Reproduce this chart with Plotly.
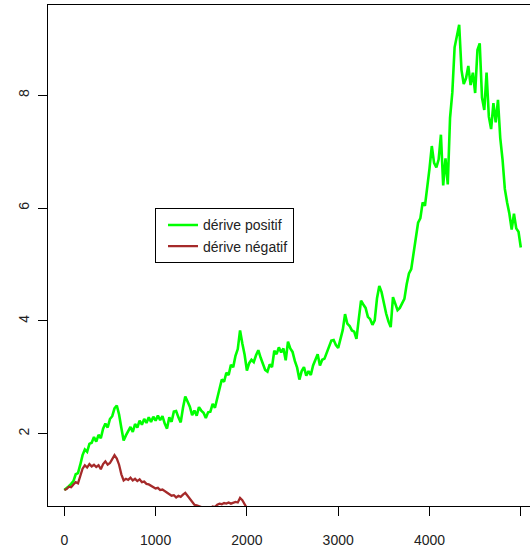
import plotly.graph_objects as go

# time steps (every 25 steps of a 5000-step walk)
steps_pos = list(range(0, 5001, 25))
steps_neg = list(range(0, 2001, 25))

# dérive positif
derive_positif = [
    1.00, 1.03, 1.07, 1.11, 1.16, 1.28, 1.30, 1.45, 1.62, 1.72,
    1.68, 1.82, 1.84, 1.94, 1.86, 1.98, 1.92, 2.09, 2.18, 2.11,
    2.26, 2.31, 2.45, 2.50, 2.34, 2.10, 1.88, 1.97, 2.04, 2.12,
    2.03, 2.17, 2.11, 2.23, 2.16, 2.26, 2.19, 2.29, 2.21, 2.30,
    2.23, 2.32, 2.24, 2.31, 2.18, 2.09, 2.29, 2.21, 2.39, 2.40,
    2.29, 2.20, 2.46, 2.66, 2.57, 2.48, 2.33, 2.41, 2.32, 2.47,
    2.41, 2.37, 2.28, 2.38, 2.39, 2.53, 2.46, 2.63, 2.82, 2.96,
    2.92, 3.08, 3.04, 3.22, 3.18, 3.38, 3.50, 3.83, 3.60, 3.40,
    3.12, 3.25, 3.31, 3.27, 3.39, 3.48, 3.35, 3.23, 3.13, 3.10,
    3.23, 3.18, 3.47, 3.41, 3.53, 3.44, 3.51, 3.30, 3.63, 3.51,
    3.45, 3.29, 3.17, 2.96, 3.11, 3.18, 3.03, 3.11, 3.04, 3.21,
    3.32, 3.41, 3.21, 3.31, 3.33, 3.45, 3.55, 3.65, 3.66, 3.57,
    3.52, 3.67, 3.84, 4.12, 3.95, 3.91, 3.83, 3.81, 3.68, 4.03,
    4.36, 4.29, 4.23, 4.07, 4.03, 3.93, 4.01, 4.40, 4.62, 4.51,
    4.31, 4.13, 3.99, 3.89, 4.42, 4.29, 4.19, 4.23, 4.31, 4.39,
    4.65, 4.84, 4.92, 5.22, 5.44, 5.74, 5.82, 6.10, 6.04, 6.34,
    6.70, 7.10, 6.80, 6.72, 6.86, 7.30, 6.40, 6.88, 6.42, 7.60,
    8.05, 8.85, 9.05, 9.25, 8.45, 8.20, 8.30, 8.52, 8.18, 8.40,
    8.04, 8.80, 8.92, 7.96, 7.74, 8.40, 7.62, 7.40, 7.86, 7.52,
    7.92, 7.24, 6.86, 6.34, 6.10, 5.90, 5.62, 5.90, 5.64, 5.58,
    5.30,
]

# dérive négatif
derive_negatif = [
    1.00, 1.02, 1.06, 1.05, 1.10, 1.14, 1.12, 1.24, 1.38, 1.44,
    1.40, 1.46, 1.42, 1.45, 1.41, 1.44, 1.37, 1.46, 1.51, 1.45,
    1.48, 1.55, 1.62, 1.56, 1.45, 1.28, 1.17, 1.20, 1.18, 1.22,
    1.17, 1.20, 1.16, 1.19, 1.14, 1.15, 1.11, 1.10, 1.08, 1.06,
    1.03, 1.04, 1.00, 1.01, 0.98, 0.96, 0.92, 0.90, 0.91, 0.87,
    0.90, 0.88, 0.92, 0.95, 0.90, 0.84, 0.78, 0.74, 0.73, 0.72,
    0.70, 0.68, 0.66, 0.67, 0.68, 0.71, 0.70, 0.74, 0.76, 0.75,
    0.77, 0.76, 0.78, 0.76, 0.77, 0.79, 0.78, 0.86, 0.82, 0.76,
    0.68,
]

x_ticks = [0, 1000, 2000, 3000, 4000, 5000]
y_ticks = [2, 4, 6, 8]

FONT = "Liberation Sans, Arial, sans-serif"

fig = go.Figure()
fig.add_trace(go.Scatter(x=steps_pos, y=derive_positif, mode="lines",
                         name="dérive positif",
                         line=dict(color="#00FF00", width=2.6)))
fig.add_trace(go.Scatter(x=steps_neg, y=derive_negatif, mode="lines",
                         name="dérive négatif",
                         line=dict(color="#A52A2A", width=2.3)))

fig.update_layout(
    width=530, height=548,
    margin=dict(l=48, r=0, t=5, b=38),
    paper_bgcolor="white", plot_bgcolor="white",
    font=dict(family=FONT, size=14, color="#222"),
    showlegend=True,
    legend=dict(x=0.222, y=0.594, xanchor="left", yanchor="top",
                bordercolor="black", borderwidth=1, bgcolor="white",
                indentation=7,
                font=dict(size=14, color="#222")),
)
fig.update_xaxes(range=[-178.5, 5100.7], tickvals=x_ticks,
                 showgrid=False, zeroline=False,
                 showline=True, linecolor="black", linewidth=1.3, mirror=True,
                 ticks="outside", ticklen=9, tickcolor="black", tickwidth=1.3,
                 ticklabelstandoff=12)
fig.update_yaxes(range=[0.718, 9.60], tickvals=y_ticks,
                 showgrid=False, zeroline=False,
                 showline=True, linecolor="black", linewidth=1.3, mirror=False,
                 ticks="outside", ticklen=9, tickcolor="black", tickwidth=1.3,
                 tickangle=-90, ticklabelstandoff=3)

fig.write_html("out.html",
               config={"displayModeBar": False},
               post_script="document.body.style.margin='0';"
                           "document.body.style.overflow='hidden';")
